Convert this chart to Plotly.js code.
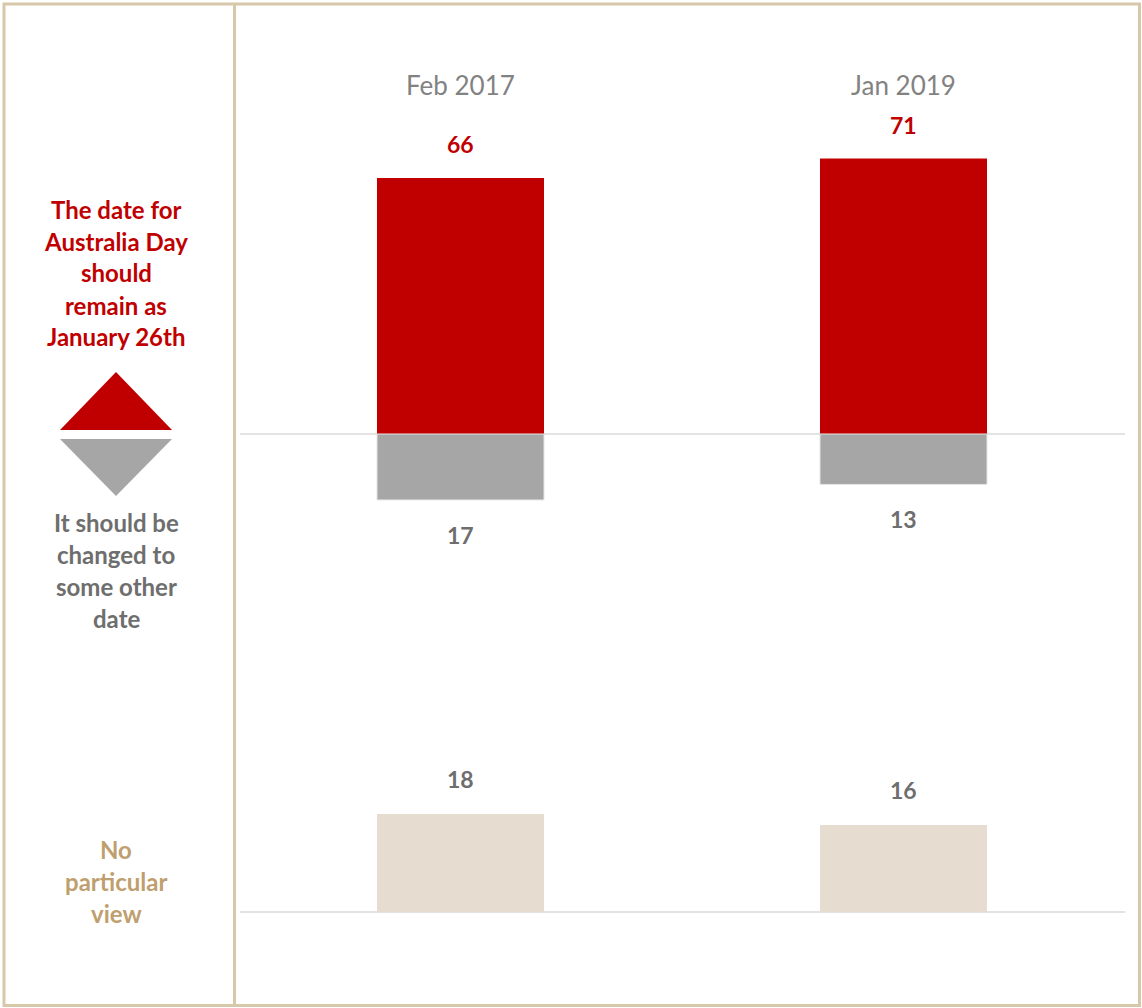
<!DOCTYPE html>
<html>
<head>
<meta charset="utf-8">
<script src="https://cdn.plot.ly/plotly-3.0.1.min.js"></script>
<style>html,body{margin:0;padding:0;background:#fff}#chart{width:1142px;height:1008px}</style>
</head>
<body>
<div id="chart"></div>
<script>
// ---- data ----
const periods = ["Feb 2017", "Jan 2019"];
const remainJan26 = [66, 71];
const changeDate = [17, 13];
const noView = [18, 16];
const labelRemain = ["The date for", "Australia Day", "should", "remain as", "January 26th"];
const labelChange = ["It should be", "changed to", "some other", "date"];
const labelNoView = ["No", "particular", "view"];

// ---- layout helpers ----
const W = 1142, H = 1008;
const px = x => x / W;
const py = y => 1 - y / H;
const RED = "#c00000", GREY = "#a6a6a6", TAN = "#e6ddd0";
const TXT_GREY = "#6e6e6e", TXT_TAN = "#bf9f6f", BORDER = "#d7c8aa";
const FONT = "Lato, 'Open Sans', sans-serif";

const traces = [
  {type: "bar", x: periods, y: remainJan26, xaxis: "x", yaxis: "y",
   marker: {color: RED, line: {width: 0}}, hoverinfo: "skip"},
  {type: "bar", x: periods, y: changeDate.map(v => -v), xaxis: "x", yaxis: "y",
   marker: {color: GREY, line: {color: "#e6e6e6", width: 1}}, hoverinfo: "skip"},
  {type: "bar", x: periods, y: noView, xaxis: "x", yaxis: "y2",
   marker: {color: TAN, line: {width: 0}}, hoverinfo: "skip"}
];

const annotations = [];
periods.forEach((p, i) => {
  annotations.push({x: p, xref: "x", y: py(85), yref: "paper", text: p, showarrow: false,
    font: {family: FONT, size: 26, color: "#828282"}, yanchor: "middle"});
  annotations.push({x: p, xref: "x", y: remainJan26[i], yref: "y", yshift: 34, text: "<b>" + remainJan26[i] + "</b>",
    showarrow: false, yanchor: "middle", font: {family: FONT, size: 23, color: RED}});
  annotations.push({x: p, xref: "x", y: -changeDate[i], yref: "y", yshift: -35, text: "<b>" + changeDate[i] + "</b>",
    showarrow: false, yanchor: "middle", font: {family: FONT, size: 23, color: TXT_GREY}});
  annotations.push({x: p, xref: "x", y: noView[i], yref: "y2", yshift: 35, text: "<b>" + noView[i] + "</b>",
    showarrow: false, yanchor: "middle", font: {family: FONT, size: 23, color: TXT_GREY}});
});
function addLines(lines, y0, color) {
  lines.forEach((t, k) => {
    annotations.push({x: px(116), xref: "paper", y: py(y0 + 32 * k), yref: "paper", text: "<b>" + t + "</b>",
      showarrow: false, xanchor: "center", yanchor: "middle", font: {family: FONT, size: 24, color: color}});
  });
}
addLines(labelRemain, 209, RED);
addLines(labelChange, 522, TXT_GREY);
addLines(labelNoView, 849, TXT_TAN);

const P = (pts) => "M " + pts.map(p => px(p[0]) + "," + py(p[1])).join(" L ") + " Z";
const shapes = [
  {type: "rect", xref: "paper", yref: "paper", x0: px(4), x1: px(1139.5), y0: py(4), y1: py(1005.5),
   line: {color: BORDER, width: 3}, layer: "above"},
  {type: "line", xref: "paper", yref: "paper", x0: px(234.5), x1: px(234.5), y0: py(4), y1: py(1005.5),
   line: {color: BORDER, width: 3}},
  {type: "line", xref: "paper", yref: "y", x0: px(240), x1: px(1125), y0: 0, y1: 0,
   line: {color: "#e3e3e3", width: 2}, layer: "below"},
  {type: "line", xref: "paper", yref: "y2", x0: px(240), x1: px(1125), y0: 0, y1: 0,
   line: {color: "#e3e3e3", width: 2}, layer: "below"},
  {type: "path", xref: "paper", yref: "paper", path: P([[116, 372], [172, 430], [60, 430]]),
   fillcolor: RED, line: {width: 0}},
  {type: "path", xref: "paper", yref: "paper", path: P([[60, 439], [172, 439], [116, 496]]),
   fillcolor: GREY, line: {width: 0}}
];

const layout = {
  width: W, height: H,
  margin: {l: 0, r: 0, t: 0, b: 0},
  paper_bgcolor: "#fff", plot_bgcolor: "rgba(0,0,0,0)",
  showlegend: false,
  barmode: "relative",
  bargap: 0.623,
  xaxis: {domain: [px(239), px(1125)], range: [-0.5, 1.5], type: "category", showticklabels: false,
          showgrid: false, zeroline: false, showline: false, ticks: "", fixedrange: true},
  yaxis: {domain: [py(434 + 3.88 * 50), py(434 - 3.88 * 100)], range: [-50, 100], anchor: "x",
          showticklabels: false, showgrid: false, zeroline: false, ticks: "", fixedrange: true},
  yaxis2: {domain: [py(912 + 5.44 * 10), py(912 - 5.44 * 30)], range: [-10, 30], anchor: "x",
           showticklabels: false, showgrid: false, zeroline: false, ticks: "", fixedrange: true},
  annotations: annotations,
  shapes: shapes
};

Plotly.newPlot("chart", traces, layout, {displayModeBar: false, staticPlot: true});
</script>
</body>
</html>
